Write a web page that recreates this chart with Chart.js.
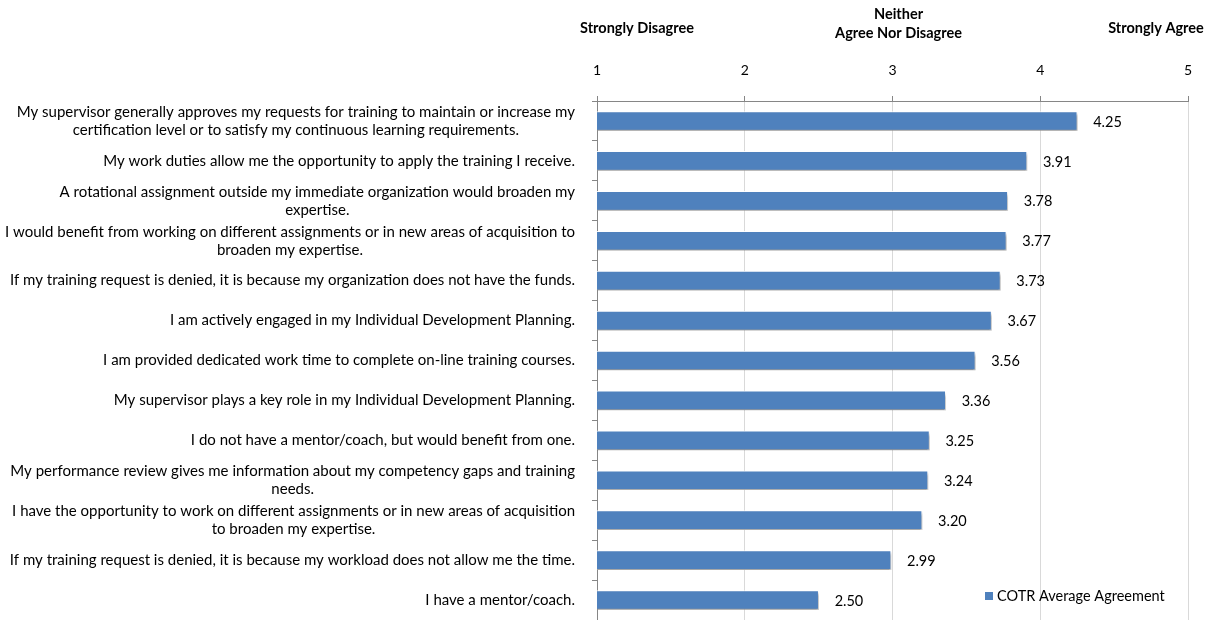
<!DOCTYPE html>
<html lang="en">
<head>
<meta charset="utf-8">
<title>COTR Average Agreement</title>
<style>
	body { margin: 0; background: #fff; }
	#wrap { width: 1210px; height: 620px; }
</style>
<script src="https://cdn.jsdelivr.net/npm/chart.js@4.4.1/dist/chart.umd.min.js"></script>
</head>
<body>
<div id="wrap"><canvas id="chart"></canvas></div>
<script>
var statements = [
	["My supervisor generally approves my requests for training to maintain or increase my", "certification level or to satisfy my continuous learning requirements."],
	["My work duties allow me the opportunity to apply the training I receive."],
	["A rotational assignment outside my immediate organization would broaden my", "expertise."],
	["I would benefit from working on different assignments or in new areas of acquisition to", "broaden my expertise."],
	["If my training request is denied, it is because my organization does not have the funds."],
	["I am actively engaged in my Individual Development Planning."],
	["I am provided dedicated work time to complete on-line training courses."],
	["My supervisor plays a key role in my Individual Development Planning."],
	["I do not have a mentor/coach, but would benefit from one."],
	["My performance review gives me information about my competency gaps and training", "needs."],
	["I have the opportunity to work on different assignments or in new areas of acquisition", "to broaden my expertise."],
	["If my training request is denied, it is because my workload does not allow me the time."],
	["I have a mentor/coach."]
];
var agreement = [4.25, 3.91, 3.78, 3.77, 3.73, 3.67, 3.56, 3.36, 3.25, 3.24, 3.20, 2.99, 2.50];
var scaleTicks = [1, 2, 3, 4, 5];
var scaleAnchors = [
	{value: 1, lines: ["Strongly Disagree"]},
	{value: 3, lines: ["Neither", "Agree Nor Disagree"]},
	{value: 5, lines: ["Strongly Agree"]}
];
var seriesName = "COTR Average Agreement";

var FONT = "Lato, 'Open Sans', sans-serif";
var BLUE = "#4F81BD";

// category labels: longest line flush right, other lines centred on it
var statementLabels = {
	id: "statementLabels",
	afterDraw: function(chart){
		var ctx = chart.ctx, y = chart.scales.y;
		var right = chart.chartArea.left - 22;
		ctx.save();
		ctx.font = "15px " + FONT;
		ctx.fillStyle = "#000";
		ctx.textAlign = "center";
		ctx.textBaseline = "middle";
		statements.forEach(function(lines, i){
			var w = 0;
			lines.forEach(function(l){ w = Math.max(w, ctx.measureText(l).width); });
			var cy = y.getPixelForTick(i) - (lines.length - 1) * 9;
			lines.forEach(function(l, k){
				ctx.fillText(l, right - w / 2, cy + k * 18);
			});
		});
		ctx.restore();
	}
};

// value labels, scale anchor headings and legend
var extras = {
	id: "extras",
	beforeDatasetsDraw: function(chart){
		var ctx = chart.ctx;
		ctx.save();
		ctx.shadowColor = "rgba(0,0,0,0.4)";
		ctx.shadowBlur = 3;
		ctx.shadowOffsetX = 1;
		ctx.shadowOffsetY = 3;
	},
	afterDatasetsDraw: function(chart){
		var ctx = chart.ctx;
		ctx.restore();
		var meta = chart.getDatasetMeta(0);
		ctx.save();
		ctx.font = "14.5px " + FONT;
		ctx.fillStyle = "#000";
		ctx.textAlign = "left";
		ctx.textBaseline = "middle";
		meta.data.forEach(function(bar, i){
			ctx.fillText(agreement[i].toFixed(2), bar.x + 16, bar.y + 1);
		});
		ctx.restore();
	},
	afterDraw: function(chart){
		var ctx = chart.ctx, x = chart.scales.x, area = chart.chartArea;
		ctx.save();
		ctx.font = "bold 14.5px " + FONT;
		ctx.fillStyle = "#000";
		ctx.textAlign = "center";
		ctx.textBaseline = "middle";
		var shift = {1: 40, 3: 6, 5: -32};
		scaleAnchors.forEach(function(a){
			var cx = x.getPixelForValue(a.value) + shift[a.value];
			var top = a.lines.length > 1 ? 14 : 28;
			a.lines.forEach(function(l, k){ ctx.fillText(l, cx, top + k * 19); });
		});
		// legend
		var lx = area.right - 203, ly = area.bottom - 24;
		ctx.fillStyle = BLUE;
		ctx.fillRect(lx, ly - 4, 8, 8);
		ctx.fillStyle = "#000";
		ctx.font = "14.5px " + FONT;
		ctx.textAlign = "left";
		ctx.fillText(seriesName, lx + 12, ly);
		ctx.restore();
	}
};

new Chart(document.getElementById("chart"), {
	type: "bar",
	data: {
		labels: statements,
		datasets: [{
			label: seriesName,
			data: agreement,
			backgroundColor: BLUE,
			borderColor: "rgba(255,255,255,0.9)",
			borderWidth: 1,
			borderSkipped: false,
			barThickness: 19
		}]
	},
	options: {
		indexAxis: "y",
		responsive: true,
		maintainAspectRatio: false,
		animation: false,
		layout: {padding: {left: 0, right: 22, top: 0, bottom: 0}},
		plugins: {legend: {display: false}, tooltip: {enabled: false}},
		scales: {
			x: {
				position: "top",
				min: 1,
				max: 5,
				afterBuildTicks: function(s){ s.ticks = scaleTicks.map(function(v){ return {value: v}; }); },
				afterFit: function(s){ s.height = 101; },
				ticks: {color: "#000", font: {family: FONT, size: 14}, padding: 17},
				grid: {color: "#d9d9d9", tickColor: "#868686", tickLength: 5},
				border: {color: "#868686", width: 1}
			},
			y: {
				afterFit: function(s){ s.width = 597; },
				ticks: {display: false},
				grid: {offset: true, drawOnChartArea: false, tickColor: "#868686", tickLength: 5},
				border: {color: "#868686", width: 1}
			}
		}
	},
	plugins: [statementLabels, extras]
});
</script>
</body>
</html>
